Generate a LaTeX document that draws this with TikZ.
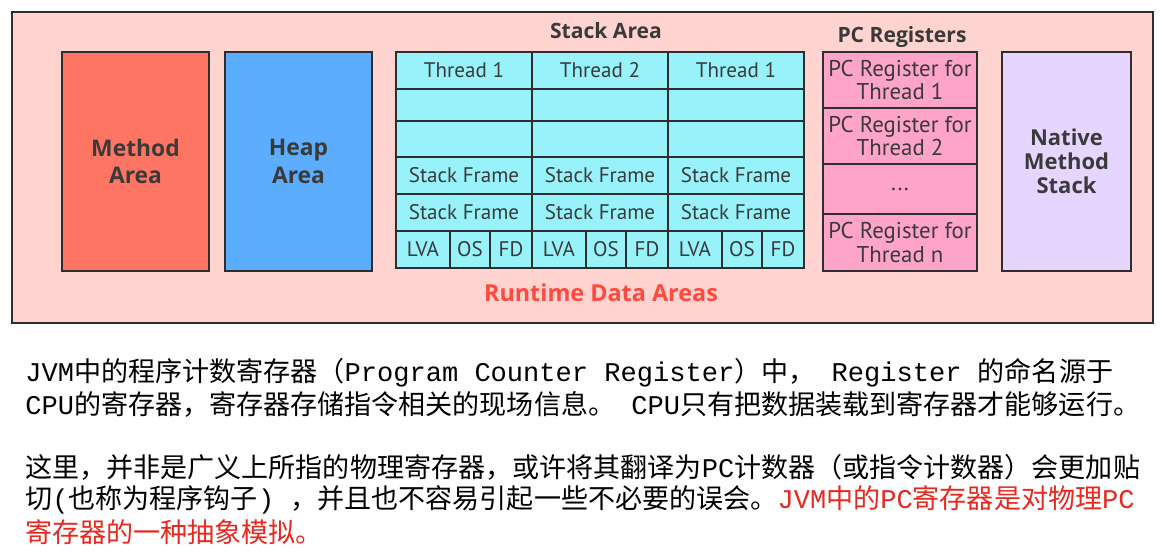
\documentclass[tikz,border=0pt]{standalone}
\usepackage{fontspec}
\setmainfont{PT Sans}
\newfontfamily\headfont{Open Sans}
\newfontfamily\cjkfont{Noto Sans CJK SC}
\newfontfamily\codefont{Liberation Mono}
\usepackage{xcolor}
\usetikzlibrary{positioning}

\definecolor{outerpink}{HTML}{FFD3CF}
\definecolor{methodred}{HTML}{FF7563}
\definecolor{heapblue}{HTML}{5DADFE}
\definecolor{stackcyan}{HTML}{98F2FA}
\definecolor{pcpink}{HTML}{FFA4C9}
\definecolor{nativelilac}{HTML}{E6D6FF}
\definecolor{boxline}{HTML}{2E2E2E}
\definecolor{labelgrey}{HTML}{3A3A3A}
\definecolor{runred}{HTML}{FF4A3D}
\definecolor{notered}{HTML}{E8281E}

\newcommand{\code}[1]{{\codefont #1}}

\begin{document}
\begin{tikzpicture}[x=0.02cm, y=-0.02cm,
    every node/.style={inner sep=0pt, text=labelgrey},
    box/.style={rectangle, draw=boxline, line width=1.1pt},
    area/.style={box, minimum width=2.94cm, minimum height=4.38cm, align=center,
      font=\headfont\bfseries\fontsize{13}{15.5}\selectfont},
    cell/.style={box, fill=stackcyan, minimum width=2.72cm, font=\fontsize{12}{14}\selectfont},
    slot/.style={box, fill=stackcyan, minimum height=0.74cm, font=\fontsize{12}{14}\selectfont},
    pccell/.style={box, fill=pcpink, minimum width=3.08cm, align=center,
      font=\fontsize{13}{13.6}\selectfont},
    title/.style={font=\headfont\bfseries\fontsize{12}{14}\selectfont},
    note/.style={anchor=west, text=black, font=\cjkfont\fontsize{15.4}{18}\selectfont},
  ]
  \useasboundingbox (0,0) rectangle (1162,557);

  % runtime data areas frame
  \node[box, fill=outerpink, line width=1.3pt, minimum width=22.82cm, minimum height=6.22cm]
    (rda) at (582.5,167.5) {};

  \node[area, fill=methodred] (method) at (135.5,161.5) {Method\\Area};
  \node[area, fill=heapblue]  (heap)   at (298.5,161.5) {Heap\\Area};

  % stack area
  \node[title] (stacktitle) at (606,31) {Stack Area};
  \foreach \c/\n in {0/1, 1/2, 2/1} {
    \pgfmathsetmacro\cx{464+136*\c}
    \node[cell, minimum height=0.74cm] (thread\c) at (\cx,70.5)  {Thread \n};
    \node[cell, minimum height=0.64cm] (blankA\c) at (\cx,105)   {};
    \node[cell, minimum height=0.72cm] (blankB\c) at (\cx,139)   {};
    \node[cell, minimum height=0.74cm] (frameA\c) at (\cx,175.5) {Stack Frame};
    \node[cell, minimum height=0.74cm] (frameB\c) at (\cx,212.5) {Stack Frame};
    \node[slot, minimum width=1.08cm]  (lva\c)    at (\cx-41,249.5) {LVA};
    \node[slot, minimum width=0.80cm]  (os\c)     at (\cx+6,249.5)  {OS};
    \node[slot, minimum width=0.84cm]  (fd\c)     at (\cx+47,249.5) {FD};
  }

  % pc registers
  \node[title] (pctitle) at (902,37) {PC Registers};
  \node[pccell, minimum height=1.12cm] (pc1)   at (900,80)    {PC Register for\\Thread 1};
  \node[pccell, minimum height=1.12cm] (pc2)   at (900,136)   {PC Register for\\Thread 2};
  \node[pccell, minimum height=1.00cm] (pcdot) at (900,189)   {...};
  \node[pccell, minimum height=1.14cm] (pcn)   at (900,242.5) {PC Register for\\Thread n};

  \node[area, fill=nativelilac, minimum width=2.58cm, font=\headfont\bfseries\fontsize{12.5}{13.6}\selectfont]
    (native) at (1066.5,161.5) {Native\\Method\\Stack};

  \node[title, text=runred, font=\headfont\bfseries\fontsize{13.3}{15}\selectfont]
    (rdatitle) at (601,293) {Runtime Data Areas};

  % notes below
  \node[note] (line1) at (25,373) {\code{JVM}中的程序计数寄存器（\code{Program Counter Register}）中，\code{\ Register\ }的命名源于};
  \node[note] (line2) at (25,404) {\code{CPU}的寄存器，寄存器存储指令相关的现场信息。\code{\ CPU}只有把数据装载到寄存器才能够运行。};
  \node[note] (line3) at (25,467) {这里，并非是广义上所指的物理寄存器，或许将其翻译为\code{PC}计数器（或指令计数器）会更加贴};
  \node[note] (line4) at (25,500) {切\code{(}也称为程序钩子\code{)\ }，并且也不容易引起一些不必要的误会。{\color{notered}\code{JVM}中的\code{PC}寄存器是对物理\code{PC}}};
  \node[note, text=notered] (line5) at (25,532) {寄存器的一种抽象模拟。};
\end{tikzpicture}
\end{document}
